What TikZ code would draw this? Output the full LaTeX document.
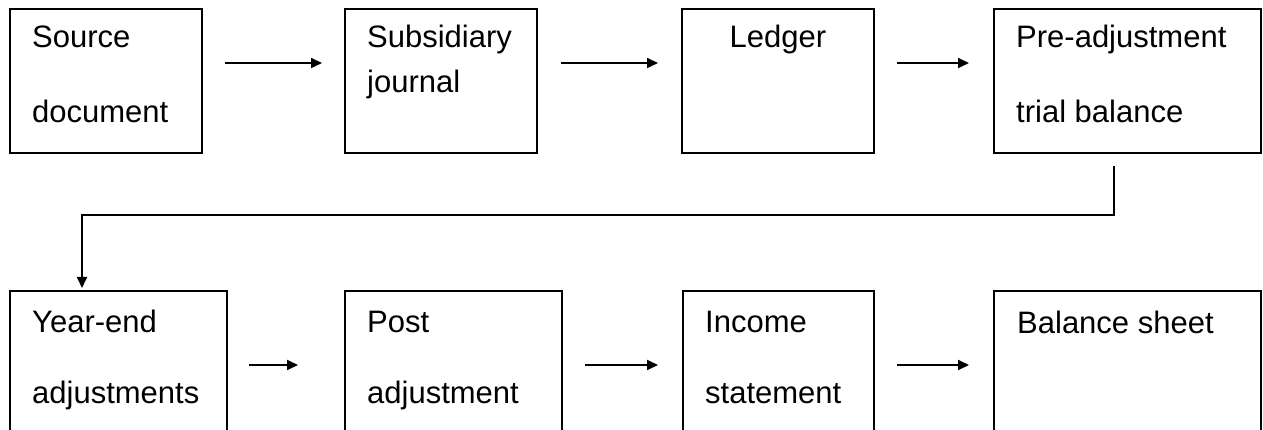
\documentclass[tikz,border=0pt]{standalone}
\usepackage{fontspec}
\setmainfont{Liberation Sans}
\usetikzlibrary{arrows.meta}
\begin{document}
\begin{tikzpicture}[x=1pt,y=-1pt,
  box/.style={draw, line width=1.8pt, inner sep=0pt, outer sep=0pt, anchor=north west},
  lbl/.style={anchor=base west, inner sep=0pt, font=\fontsize{31}{37}\selectfont},
  arr/.style={line width=1.9pt, -{Triangle[length=11pt,width=10pt]}}]
\useasboundingbox (0,0) rectangle (1263,430);
\clip (0,0) rectangle (1263,430);
% top row boxes
\node[box, minimum width=192pt, minimum height=144pt] (b1) at (10,9) {};
\node[box, minimum width=192pt, minimum height=144pt] (b2) at (345,9) {};
\node[box, minimum width=192pt, minimum height=144pt] (b3) at (682,9) {};
\node[box, minimum width=267pt, minimum height=144pt] (b4) at (994,9) {};
% bottom row boxes
\node[box, minimum width=217pt, minimum height=150pt] (b5) at (10,291) {};
\node[box, minimum width=217pt, minimum height=150pt] (b6) at (345,291) {};
\node[box, minimum width=191pt, minimum height=150pt] (b7) at (683,291) {};
\node[box, minimum width=267pt, minimum height=150pt] (b8) at (994,291) {};
% texts
\node[lbl] (t1a) at (32,48) {Source};
\node[lbl] (t1b) at (32,123) {document};
\node[lbl] (t2a) at (367,48) {Subsidiary};
\node[lbl] (t2b) at (367,93) {journal};
\node[lbl, anchor=base] (t3) at (778,48) {Ledger};
\node[lbl] (t4a) at (1016,48) {Pre-adjustment};
\node[lbl] (t4b) at (1016,123) {trial balance};
\node[lbl] (t5a) at (32,332) {Year-end};
\node[lbl] (t5b) at (32,403) {adjustments};
\node[lbl] (t6a) at (367,332) {Post};
\node[lbl] (t6b) at (367,403) {adjustment};
\node[lbl] (t7a) at (705,332) {Income};
\node[lbl] (t7b) at (705,403) {statement};
\node[lbl] (t8) at (1017,333) {Balance sheet};
% arrows top row
\draw[arr] ([xshift=23pt,yshift=18pt]b1.east) -- ([xshift=-23pt,yshift=18pt]b2.west);
\draw[arr] ([xshift=24pt,yshift=18pt]b2.east) -- ([xshift=-24pt,yshift=18pt]b3.west);
\draw[arr] ([xshift=23pt,yshift=18pt]b3.east) -- ([xshift=-25pt,yshift=18pt]b4.west);
% elbow connector
\coordinate (e0) at ([xshift=120pt,yshift=-13pt]b4.south west);
\coordinate (e1) at ([xshift=72pt,yshift=3pt]b5.north west);
\draw[arr] (e0) -- ++(0,49) -| (e1);
% arrows bottom row
\draw[arr] ([xshift=22pt,yshift=1pt]b5.east) -- ([xshift=-47pt,yshift=1pt]b6.west);
\draw[arr] ([xshift=23pt,yshift=1pt]b6.east) -- ([xshift=-25pt,yshift=1pt]b7.west);
\draw[arr] ([xshift=23pt,yshift=1pt]b7.east) -- ([xshift=-25pt,yshift=1pt]b8.west);
\end{tikzpicture}
\end{document}
